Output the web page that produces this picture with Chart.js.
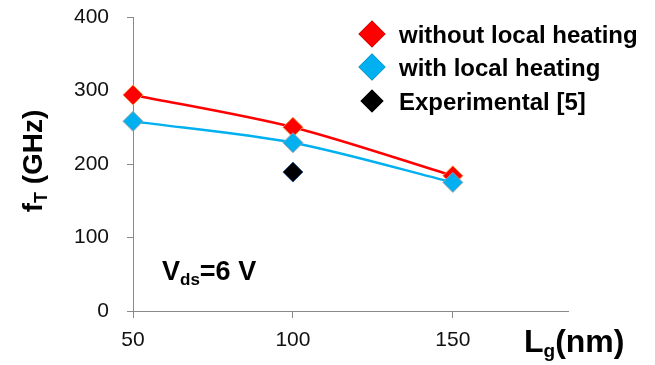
<!DOCTYPE html>
<html>
<head>
<meta charset="utf-8">
<script src="https://cdn.jsdelivr.net/npm/chart.js@4/dist/chart.umd.min.js"></script>
<style>
    body { margin: 0; background: #fff; }
</style>
</head>
<body>
<canvas id="FtChart" width="655" height="365"></canvas>
<script>
var gateLength = [50, 100, 150];
var withoutHeating = [294, 250, 184];
var withHeating = [258, 229, 175];
var expLength = [100];
var expValues = [189];
var xTicks = [50, 100, 150];
var legendLabels = ["without local heating", "with local heating", "Experimental [5]"];

var fontName = '"Liberation Sans", Arial, sans-serif';

function toPoints(xs, ys) {
    var pts = [];
    for (var i = 0; i < xs.length; i++) {
        pts.push({ x: xs[i], y: ys[i] });
    }
    return pts;
}

// text with a subscript part, returns the end x
function drawSubText(ctx, x, y, main, sub, rest, size, subSize, shift) {
    ctx.font = 'bold ' + size + 'px ' + fontName;
    ctx.fillText(main, x, y);
    x += ctx.measureText(main).width;
    ctx.font = 'bold ' + subSize + 'px ' + fontName;
    ctx.fillText(sub, x, y + shift);
    x += ctx.measureText(sub).width;
    ctx.font = 'bold ' + size + 'px ' + fontName;
    ctx.fillText(rest, x, y);
    return x + ctx.measureText(rest).width;
}

function subTextWidth(ctx, main, sub, rest, size, subSize) {
    ctx.font = 'bold ' + size + 'px ' + fontName;
    var w = ctx.measureText(main).width + ctx.measureText(rest).width;
    ctx.font = 'bold ' + subSize + 'px ' + fontName;
    return w + ctx.measureText(sub).width;
}

var labelsPlugin = {
    id: 'labelsPlugin',
    afterDraw: function (chart) {
        var ctx = chart.ctx;
        ctx.save();
        ctx.fillStyle = '#000';
        ctx.textBaseline = 'alphabetic';
        ctx.textAlign = 'left';

        // y title, rotated
        ctx.save();
        ctx.translate(42, 161);
        ctx.rotate(-Math.PI / 2);
        var w = subTextWidth(ctx, 'f', 'T', ' (GHz)', 28, 18);
        drawSubText(ctx, -w / 2, 0, 'f', 'T', ' (GHz)', 28, 18, 5);
        ctx.restore();

        // x title
        drawSubText(ctx, 524, 352, 'L', 'g', '(nm)', 32, 19, 5);

        // bias note
        drawSubText(ctx, 162, 280, 'V', 'ds', '=6 V', 27, 17, 5);

        // legend
        var colors = ['#FF0000', '#00B0F0', '#000000'];
        var sizes = [13.5, 13.5, 11.5];
        var rowsY = [34, 67, 101];
        for (var i = 0; i < legendLabels.length; i++) {
            Chart.helpers.drawPoint(ctx, {
                pointStyle: 'rectRot',
                radius: sizes[i],
                borderWidth: 0
            }, 372, rowsY[i]);
            ctx.fillStyle = colors[i];
            ctx.fill();
            ctx.fillStyle = '#000';
            ctx.font = 'bold 24px ' + fontName;
            ctx.fillText(legendLabels[i], 399, rowsY[i] + 9);
        }
        ctx.restore();
    }
};

var ctx = document.getElementById("FtChart").getContext('2d');
var myChart = new Chart(ctx, {
    type: 'scatter',
    data: {
        datasets: [{
            label: legendLabels[0],
            data: toPoints(gateLength, withoutHeating),
            showLine: true,
            tension: 0.3,
            borderColor: '#FF0000',
            borderWidth: 2.5,
            backgroundColor: '#FF0000',
            pointStyle: 'rectRot',
            pointRadius: 10,
            pointBorderColor: '#F79646',
            pointBorderWidth: 1,
            clip: false,
            order: 2
        }, {
            label: legendLabels[1],
            data: toPoints(gateLength, withHeating),
            showLine: true,
            tension: 0.3,
            borderColor: '#00B0F0',
            borderWidth: 2.5,
            backgroundColor: '#00B0F0',
            pointStyle: 'rectRot',
            pointRadius: 10,
            pointBorderColor: '#A0A0A0',
            pointBorderWidth: 1,
            clip: false,
            order: 1
        }, {
            label: legendLabels[2],
            data: toPoints(expLength, expValues),
            showLine: false,
            backgroundColor: '#000000',
            pointStyle: 'rectRot',
            pointRadius: 10,
            pointBorderColor: '#2F4F8F',
            pointBorderWidth: 1,
            clip: false,
            order: 0
        }]
    },
    options: {
        responsive: false,
        animation: false,
        devicePixelRatio: 1,
        layout: { padding: { left: 0, top: 17, right: 87, bottom: 0 } },
        plugins: {
            legend: { display: false },
            tooltip: { enabled: false }
        },
        scales: {
            x: {
                type: 'linear',
                min: 50,
                max: 186,
                afterBuildTicks: function (scale) {
                    scale.ticks = xTicks.map(function (v) { return { value: v }; });
                },
                afterFit: function (scale) { scale.height = 54; },
                grid: {
                    drawOnChartArea: false,
                    drawTicks: true,
                    tickLength: 7,
                    color: '#898989'
                },
                border: { color: '#898989', width: 1 },
                ticks: {
                    color: '#111',
                    padding: 10,
                    maxRotation: 0,
                    font: { family: fontName, size: 21 }
                }
            },
            y: {
                min: 0,
                max: 400,
                // tick padding makes chart.js pad the top a lot, drop that
                afterFit: function (scale) {
                    scale.width = 133;
                    scale.paddingTop = 0;
                    scale.paddingBottom = 0;
                },
                grid: {
                    drawOnChartArea: false,
                    drawTicks: true,
                    tickLength: 6,
                    color: '#898989'
                },
                border: { color: '#898989', width: 1 },
                ticks: {
                    stepSize: 100,
                    color: '#111',
                    padding: 18,
                    font: { family: fontName, size: 21 }
                }
            }
        }
    },
    plugins: [labelsPlugin]
});
</script>
</body>
</html>
